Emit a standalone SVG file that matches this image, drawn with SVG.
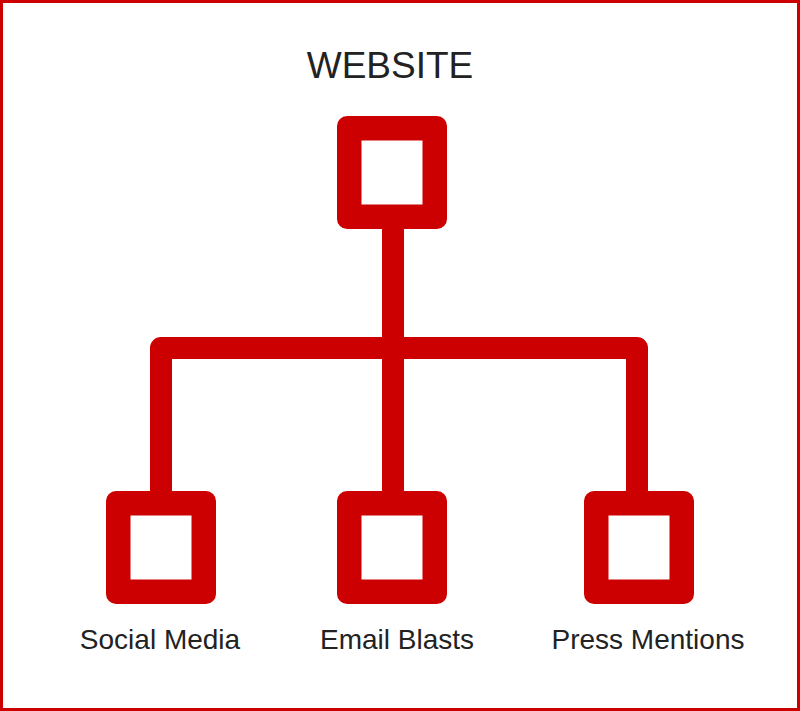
<svg xmlns="http://www.w3.org/2000/svg" width="800" height="711" viewBox="0 0 800 711">
<style>
.box{fill:#cc0000;fill-rule:evenodd}
.lbl{font-family:"Liberation Sans",Arial,sans-serif;fill:#222222;text-anchor:middle}
.conn{fill:none;stroke:#cc0000;stroke-width:22;stroke-linejoin:round}
</style>
<rect x="0" y="0" width="800" height="711" fill="#ffffff"/>
<rect x="1.5" y="1.5" width="797" height="708" fill="none" stroke="#cc0000" stroke-width="3"/>
<text class="lbl" x="390" y="78" font-size="37">WEBSITE</text>
<g id="connectors">
<path class="conn" d="M161,495 V348 H637 V495"/>
<path class="conn" d="M393,225 V495"/>
</g>
<g id="website">
<path class="box" d="M347,116 H437 A10,10 0 0 1 447,126 V219 A10,10 0 0 1 437,229 H347 A10,10 0 0 1 337,219 V126 A10,10 0 0 1 347,116 Z M361.5,140.5 V204.5 H422.5 V140.5 Z"/>
</g>
<g id="social-media">
<path class="box" d="M116,491 H206 A10,10 0 0 1 216,501 V594 A10,10 0 0 1 206,604 H116 A10,10 0 0 1 106,594 V501 A10,10 0 0 1 116,491 Z M130.5,515.5 V579.5 H191.5 V515.5 Z"/>
<text class="lbl" x="160" y="649" font-size="28">Social Media</text>
</g>
<g id="email-blasts">
<path class="box" d="M347,491 H437 A10,10 0 0 1 447,501 V594 A10,10 0 0 1 437,604 H347 A10,10 0 0 1 337,594 V501 A10,10 0 0 1 347,491 Z M361.5,515.5 V579.5 H422.5 V515.5 Z"/>
<text class="lbl" x="397" y="649" font-size="28">Email Blasts</text>
</g>
<g id="press-mentions">
<path class="box" d="M594,491 H684 A10,10 0 0 1 694,501 V594 A10,10 0 0 1 684,604 H594 A10,10 0 0 1 584,594 V501 A10,10 0 0 1 594,491 Z M608.5,515.5 V579.5 H669.5 V515.5 Z"/>
<text class="lbl" x="648" y="649" font-size="28">Press Mentions</text>
</g>
</svg>
